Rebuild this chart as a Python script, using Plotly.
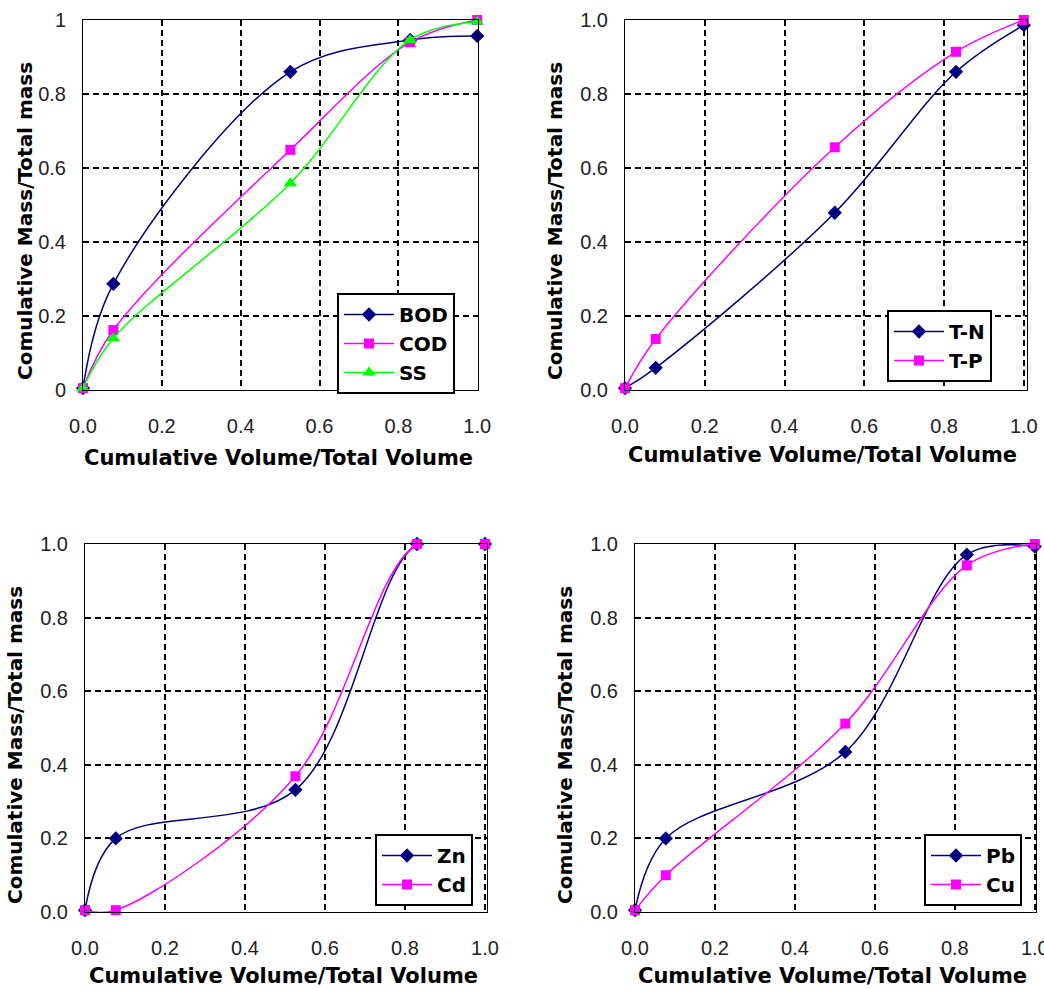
import plotly.graph_objects as go

W, H = 1044, 990

# ---- data ----
x_vals = [0.0, 0.077, 0.526, 0.83, 1.0]

bod = [0.005, 0.287, 0.86, 0.946, 0.957]
cod = [0.005, 0.162, 0.649, 0.94, 1.0]
ss = [0.005, 0.14, 0.559, 0.946, 0.995]

tn = [0.005, 0.06, 0.479, 0.86, 0.986]
tp = [0.005, 0.138, 0.656, 0.914, 1.0]

zn = [0.005, 0.2, 0.332, 1.0, 1.0]
cd = [0.005, 0.005, 0.369, 1.0, 1.0]

pb = [0.005, 0.2, 0.435, 0.971, 0.993]
cu = [0.005, 0.1, 0.512, 0.942, 1.0]

tick_vals = [0, 0.2, 0.4, 0.6, 0.8, 1.0]
tick_text = ["0.0", "0.2", "0.4", "0.6", "0.8", "1.0"]
tick_text_p1_y = ["0", "0.2", "0.4", "0.6", "0.8", "1"]

x_title = "Cumulative Volume/Total Volume"
y_title = "Comulative Mass/Total mass"

NAVY = "#000080"
MAGENTA = "#FF00FF"
GREEN = "#00FF00"

# panel boxes in pixels: (left, right, top, bottom)
panels = [
    (83, 478, 20, 390),
    (625, 1027, 20, 390),
    (85, 487, 544, 912),
    (635, 1036, 544, 912),
]

fig = go.Figure()

def px_dom_x(a, b):
    return [a / W, b / W]

def px_dom_y(top, bot):
    return [1 - bot / H, 1 - top / H]

series = [
    (1, [("BOD", bod, NAVY, "diamond", 11), ("COD", cod, MAGENTA, "square", 10), ("SS", ss, GREEN, "triangle-up", 12)]),
    (2, [("T-N", tn, NAVY, "diamond", 11), ("T-P", tp, MAGENTA, "square", 10)]),
    (3, [("Zn", zn, NAVY, "diamond", 11), ("Cd", cd, MAGENTA, "square", 10)]),
    (4, [("Pb", pb, NAVY, "diamond", 11), ("Cu", cu, MAGENTA, "square", 10)]),
]

for idx, items in series:
    sfx = "" if idx == 1 else str(idx)
    for name, ys, col, sym, msz in items:
        fig.add_trace(go.Scatter(
            x=x_vals, y=ys, name=name, mode="lines+markers",
            line=dict(color=col, width=1.5, shape="spline", smoothing=1.0),
            marker=dict(color=col, symbol=sym, size=msz),
            cliponaxis=False,
            xaxis="x" + sfx, yaxis="y" + sfx,
            legend="legend" + sfx,
        ))

tick_font = dict(family="Liberation Sans, Arial", size=20, color="#222")
layout = dict(
    width=W, height=H,
    margin=dict(l=0, r=0, t=0, b=0, autoexpand=False),
    paper_bgcolor="white", plot_bgcolor="white",
    font=dict(family="DejaVu Sans", color="black"),
)

xranges = [[0, 1.002], [0, 1.008], [0, 1.005], [0, 1.003]]
for i, (l, r, t, b) in enumerate(panels):
    sfx = "" if i == 0 else str(i + 1)
    common = dict(
        showline=True, mirror=True, linecolor="black", linewidth=1,
        showgrid=True, gridcolor="black", gridwidth=1.8, griddash="6px,4px",
        zeroline=False, ticks="", tickvals=tick_vals, tickfont=tick_font,
        fixedrange=True, automargin=False, ticklabeloverflow="allow",
    )
    layout["xaxis" + sfx] = dict(
        common, domain=px_dom_x(l, r), range=xranges[i],
        ticktext=tick_text, anchor="y" + sfx, ticklabelstandoff=18,
    )
    layout["yaxis" + sfx] = dict(
        common, domain=px_dom_y(t, b), range=[0, 1],
        ticktext=tick_text_p1_y if i == 0 else tick_text,
        anchor="x" + sfx, ticklabelstandoff=12,
    )

# legends (pixel positions of top-left corner)
legend_pos = [(337, 293), (887, 310), (375, 834), (924, 834)]
for i, (lx, ly) in enumerate(legend_pos):
    key = "legend" if i == 0 else "legend" + str(i + 1)
    layout[key] = dict(
        x=lx / W, y=1 - ly / H, xanchor="left", yanchor="top",
        xref="paper", yref="paper",
        bgcolor="white", bordercolor="black", borderwidth=2,
        font=dict(family="DejaVu Sans", size=20, color="black", weight="bold"),
        itemwidth=50, tracegroupgap=0,
    )

fig.update_layout(**layout)

# axis titles as annotations (pixel centres)
xt_pos = [(278, 458), (822, 455), (283, 976), (832, 976)]
yt_pos = [(25, 221), (555, 221), (15, 745), (565, 745)]
for (cx, cy) in xt_pos:
    fig.add_annotation(x=cx / W, y=1 - cy / H, xref="paper", yref="paper",
                       text="<b>" + x_title + "</b>", showarrow=False,
                       xanchor="center", yanchor="middle",
                       font=dict(family="DejaVu Sans", size=21, color="black"))
for (cx, cy) in yt_pos:
    fig.add_annotation(x=cx / W, y=1 - cy / H, xref="paper", yref="paper",
                       text="<b>" + y_title + "</b>", showarrow=False, textangle=-90,
                       xanchor="center", yanchor="middle",
                       font=dict(family="DejaVu Sans", size=20, color="black"))

fig.write_html("out.html")
